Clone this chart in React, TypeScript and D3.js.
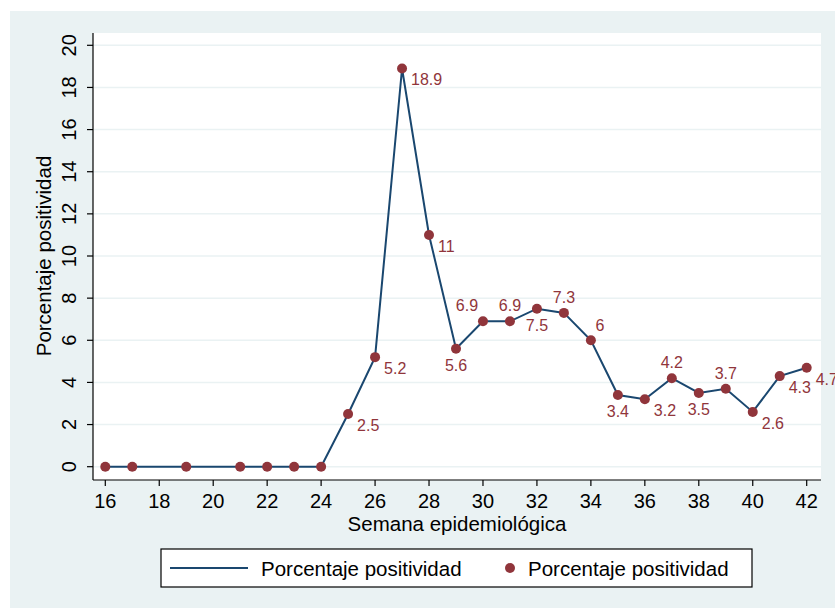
import React from "react";
import * as d3 from "d3";

const weeks = [16, 17, 19, 21, 22, 23, 24, 25, 26, 27, 28, 29, 30, 31, 32, 33, 34, 35, 36, 37, 38, 39, 40, 41, 42];
const values = [0, 0, 0, 0, 0, 0, 0, 2.5, 5.2, 18.9, 11, 5.6, 6.9, 6.9, 7.5, 7.3, 6, 3.4, 3.2, 4.2, 3.5, 3.7, 2.6, 4.3, 4.7];
// label clock position (Stata mlabvposition style); 0 = no label
const labelPos = [0, 0, 0, 0, 0, 0, 0, 4, 4, 4, 4, 6, 11, 12, 6, 12, 1, 6, 4, 12, 6, 12, 4, 4, 4];
const xTicks = [16, 18, 20, 22, 24, 26, 28, 30, 32, 34, 36, 38, 40, 42];
const yTicks = [0, 2, 4, 6, 8, 10, 12, 14, 16, 18, 20];
const seriesName = "Porcentaje positividad";
const xTitle = "Semana epidemiológica";
const yTitle = "Porcentaje positividad";

const W = 835;
const H = 608;
const plot = { left: 93, right: 821, top: 33, bottom: 480 };
const navy = "#1a476f";
const maroon = "#90353b";
const bg = "#eaf2f3";
const font = "'Liberation Sans', Arial, Helvetica, sans-serif";

export default function App() {
  const x = d3.scaleLinear().domain([16, 42]).range([105.3, 806.7]);
  const y = d3.scaleLinear().domain([0, 20]).range([466.7, 45.3]);
  const line = d3
    .line<number>()
    .x((_, i) => x(weeks[i]))
    .y((d) => y(d));

  const labelOffset = (p: number): [number, number, "start" | "middle" | "end"] => {
    switch (p) {
      case 4:
        return [9, 17, "start"];
      case 6:
        return [0, 22, "middle"];
      case 12:
        return [0, -10, "middle"];
      case 11:
        return [-16, -10, "middle"];
      case 1:
        return [9, -9, "middle"];
      default:
        return [0, 0, "middle"];
    }
  };

  return (
    <svg
      width={W}
      height={H}
      style={{ position: "absolute", left: 0, top: 0, fontFamily: font }}
    >
      <rect x={0} y={0} width={W} height={H} fill="#ffffff" />
      <rect x={10} y={11} width={W - 10} height={H - 11} fill={bg} />
      <rect
        x={plot.left}
        y={plot.top}
        width={plot.right - plot.left}
        height={plot.bottom - plot.top}
        fill="#ffffff"
      />
      {/* gridlines */}
      {yTicks.map((t) => (
        <line
          key={"g" + t}
          x1={plot.left}
          x2={plot.right}
          y1={y(t)}
          y2={y(t)}
          stroke={bg}
          strokeWidth={1.5}
        />
      ))}
      {/* axes */}
      <line x1={plot.left} x2={plot.left} y1={plot.top} y2={plot.bottom} stroke="#000" strokeWidth={1.2} />
      <line x1={plot.left} x2={plot.right} y1={plot.bottom} y2={plot.bottom} stroke="#000" strokeWidth={1.2} />
      {yTicks.map((t) => (
        <g key={"yt" + t}>
          <line x1={plot.left - 6} x2={plot.left} y1={y(t)} y2={y(t)} stroke="#000" strokeWidth={1.2} />
          <text
            transform={`translate(${76},${y(t)}) rotate(-90)`}
            textAnchor="middle"
            fontSize={20}
            fill="#000"
          >
            {t}
          </text>
        </g>
      ))}
      {xTicks.map((t) => (
        <g key={"xt" + t}>
          <line x1={x(t)} x2={x(t)} y1={plot.bottom} y2={plot.bottom + 6} stroke="#000" strokeWidth={1.2} />
          <text x={x(t)} y={508} textAnchor="middle" fontSize={20} fill="#000">
            {t}
          </text>
        </g>
      ))}
      <text x={457} y={531} textAnchor="middle" fontSize={20.5} fill="#000">
        {xTitle}
      </text>
      <text
        transform={`translate(${51},${256}) rotate(-90)`}
        textAnchor="middle"
        fontSize={20.5}
        fill="#000"
      >
        {yTitle}
      </text>
      {/* series */}
      <path d={line(values) || ""} fill="none" stroke={navy} strokeWidth={2} />
      {values.map((v, i) => (
        <circle key={"c" + i} cx={x(weeks[i])} cy={y(v)} r={5} fill={maroon} />
      ))}
      {values.map((v, i) => {
        const p = labelPos[i];
        if (!p) return null;
        const [dx, dy, anchor] = labelOffset(p);
        return (
          <text
            key={"l" + i}
            x={x(weeks[i]) + dx}
            y={y(v) + dy}
            textAnchor={anchor}
            fontSize={16}
            fill={maroon}
          >
            {v}
          </text>
        );
      })}
      {/* legend */}
      <rect x={161} y={549} width={591} height={38} fill="#fff" stroke="#000" strokeWidth={1.2} />
      <line x1={170} x2={248} y1={568} y2={568} stroke={navy} strokeWidth={2} />
      <text x={261} y={576} fontSize={20.5} fill="#000">
        {seriesName}
      </text>
      <circle cx={510} cy={568} r={5} fill={maroon} />
      <text x={528} y={576} fontSize={20.5} fill="#000">
        {seriesName}
      </text>
    </svg>
  );
}
